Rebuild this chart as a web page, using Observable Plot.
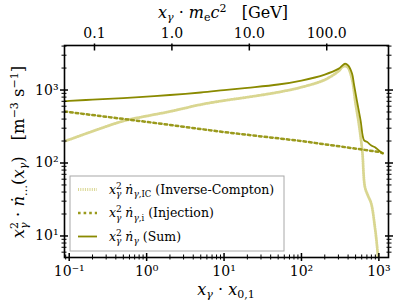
<!DOCTYPE html>
<html><head><meta charset="utf-8">
<script src="https://cdn.jsdelivr.net/npm/d3@7"></script>
<script src="https://cdn.jsdelivr.net/npm/@observablehq/plot@0.6"></script>
<style>body{margin:0;background:#fff} #chart{width:399px;height:307px}</style>
</head><body><div id="chart"></div>
<script>
// ---- data ----
const xIC  = [0.087, 0.1, 0.2, 0.5, 1, 2, 5, 10, 20, 50, 100, 200, 300, 340, 370, 400, 450, 500, 550, 609, 660, 720, 795, 890, 950, 975, 1000];
const yIC  = [199, 209, 272, 376, 440, 507, 632, 717, 797, 933, 1093, 1380, 1808, 2080, 2130, 2020, 1400, 650, 350, 148, 47, 36, 28, 13, 7, 5, 3];
const xInj = [0.087, 0.1, 1, 10, 100, 1000, 1120];
const yInj = [507, 498, 366, 265, 200, 142, 136];
const xSum = [0.087, 0.1, 0.2, 0.5, 1, 2, 5, 10, 20, 50, 100, 200, 300, 365, 400, 450, 475, 520, 580, 645, 700, 800, 900, 1000, 1120];
const ySum = [703, 710, 738, 776, 812, 855, 925, 995, 1070, 1190, 1350, 1630, 1950, 2290, 2170, 1680, 1227, 717, 383, 204, 195, 174, 163, 148, 136];

const xDecades = [0.1, 1, 10, 100, 1000];
const xDecadeLabels = ["10⁻¹", "10⁰", "10¹", "10²", "10³"];
const yDecades = [10, 100, 1000];
const yDecadeLabels = ["10¹", "10²", "10³"];
const minorMultipliers = [2, 3, 4, 5, 6, 7, 8, 9];
const topTicksGeV = [0.1, 1, 10, 100];
const topTickLabels = ["0.1", "1.0", "10.0", "100.0"];
const unitsPerGeV = 2.12; // x·x0,1 per GeV (read from the top/bottom axis alignment)

const xDomain = [0.0869, 1331];
const yDomain = [5.07, 4075];

const cSum = "#8a8a00", cInj = "#9a9a1c", cIC = "#d9d690";

// ---- derived tables ----
const toRows = (xs, ys) => xs.map((x, i) => ({x, y: ys[i]}));
const icData = toRows(xIC, yIC), injData = toRows(xInj, yInj), sumData = toRows(xSum, ySum);
const inDom = (v, d) => v >= d[0] * 0.999 && v <= d[1] * 1.001;
const xMinor = [0.01, ...xDecades].flatMap(d => minorMultipliers.map(m => d * m)).filter(v => inDom(v, xDomain));
const yMinor = [1, ...yDecades].flatMap(d => minorMultipliers.map(m => d * m)).filter(v => inDom(v, yDomain));
const topTicks = topTicksGeV.map(g => g * unitsPerGeV);
const lab = (vals, labels) => d => { const i = vals.findIndex(v => Math.abs(v / d - 1) < 1e-6); return i < 0 ? "" : labels[i]; };
const none = () => "";

const plot = Plot.plot({
  width: 399, height: 307,
  marginLeft: 64, marginRight: 11, marginTop: 45, marginBottom: 50,
  style: {fontFamily: "DejaVu Serif", fontSize: "14px", background: "white", color: "black", overflow: "visible"},
  x: {type: "log", domain: xDomain},
  y: {type: "log", domain: yDomain},
  marks: [
    Plot.line(icData, {x: "x", y: "y", stroke: cIC, strokeWidth: 2.8, strokeDasharray: "1,1.3", curve: "catmull-rom", clip: true}),
    Plot.line(injData, {x: "x", y: "y", stroke: cInj, strokeWidth: 2.5, strokeDasharray: "2.6,3", clip: true}),
    Plot.line(sumData, {x: "x", y: "y", stroke: cSum, strokeWidth: 1.8, curve: "catmull-rom", clip: true}),
    Plot.frame({stroke: "black", strokeWidth: 1.6}),
    // bottom
    Plot.axisX({anchor: "bottom", ticks: xDecades, tickSize: 8, dy: -4, tickFormat: none, label: null, strokeWidth: 1.5}),
    Plot.axisX({anchor: "bottom", ticks: xMinor, tickSize: 5, dy: -2.5, tickFormat: none, label: null}),
    Plot.axisX({anchor: "bottom", ticks: xDecades, tickSize: 0, tickPadding: 9, tickFormat: lab(xDecades, xDecadeLabels), label: null, fontSize: 14}),
    // top (GeV)
    Plot.axisX({anchor: "top", ticks: topTicks, tickSize: 7, dy: 4.5, tickFormat: none, label: null, strokeWidth: 1.5}),
    Plot.axisX({anchor: "top", ticks: topTicks, tickSize: 0, tickPadding: 8, tickFormat: lab(topTicks, topTickLabels), label: null, fontSize: 14}),
    // left
    Plot.axisY({anchor: "left", ticks: yDecades, tickSize: 8, dx: 4, tickFormat: none, label: null, strokeWidth: 1.5}),
    Plot.axisY({anchor: "left", ticks: yMinor, tickSize: 5, dx: 2.5, tickFormat: none, label: null}),
    Plot.axisY({anchor: "left", ticks: yDecades, tickSize: 0, tickPadding: 6, tickFormat: lab(yDecades, yDecadeLabels), label: null, fontSize: 14}),
    // right
    Plot.axisY({anchor: "right", ticks: yDecades, tickSize: 8, dx: -4, tickFormat: none, label: null, strokeWidth: 1.5}),
    Plot.axisY({anchor: "right", ticks: yMinor, tickSize: 5, dx: -2.5, tickFormat: none, label: null})
  ]
});
document.getElementById("chart").append(plot);

// ---- rich text titles & legend ----
const svg = d3.select(plot);
function rich(parent, segs, attrs) {
  const t = parent.append("text");
  for (const [k, v] of Object.entries(attrs)) t.attr(k, v);
  let cur = 0;
  for (const s of segs) {
    const ts = t.append("tspan").text(s.t);
    const off = s.o || 0;
    if (off !== cur) { ts.attr("dy", off - cur); cur = off; }
    if (s.i) ts.attr("font-style", "italic");
    if (s.s) ts.attr("font-size", s.s);
    if (s.dx) ts.attr("dx", s.dx);
  }
  return t;
}
const base = {"font-family": "DejaVu Serif", fill: "black", stroke: "none"};
rich(svg, [
  {t: "x", i: 1}, {t: "γ", o: 3, s: 11, i: 1}, {t: " · ", o: 0}, {t: "x", i: 1}, {t: "0,1", o: 3, s: 11}
], {...base, "font-size": 16, x: 226, y: 295, "text-anchor": "middle"});
rich(svg, [
  {t: "x", i: 1}, {t: "γ", o: 3, s: 11, i: 1}, {t: " · ", o: 0}, {t: "m", i: 1}, {t: "e", o: 3, s: 11},
  {t: "c", o: 0, i: 1}, {t: "2", o: -6, s: 11}, {t: "   [GeV]", o: 0}
], {...base, "font-size": 16, x: 223, y: 18, "text-anchor": "middle"});
rich(svg, [
  {t: "x", i: 1}, {t: "2", o: -6, s: 11}, {t: "γ", o: 4, s: 11, i: 1, dx: -7}, {t: " · ", o: 0},
  {t: "ṅ", i: 1}, {t: "…", o: 3, s: 11}, {t: "(", o: 0}, {t: "x", i: 1}, {t: "γ", o: 3, s: 11, i: 1},
  {t: ")   [m", o: 0}, {t: "−3", o: -6, s: 11}, {t: " s", o: 0}, {t: "−1", o: -6, s: 11}, {t: "]", o: 0}
], {...base, "font-size": 16.5, transform: "translate(24,152) rotate(-90)", "text-anchor": "middle"});

// legend
const lg = svg.append("g");
lg.append("rect").attr("x", 70).attr("y", 176).attr("width", 214).attr("height", 75)
  .attr("fill", "white").attr("fill-opacity", 0.85).attr("stroke", "#a8a8a8").attr("stroke-width", 1);
const mathHead = [{t: "x", i: 1}, {t: "2", o: -5, s: 9}, {t: "γ", o: 3.5, s: 9, i: 1, dx: -5.8}, {t: " ", o: 0}, {t: "ṅ", i: 1}];
const legendItems = [
  {stroke: cIC, w: 2.8, dash: "1,1.3", segs: [...mathHead, {t: "γ", o: 3.5, s: 9, i: 1}, {t: ",IC", o: 3.5, s: 8.5}, {t: " (Inverse-Compton)", o: 0}]},
  {stroke: cInj, w: 2.5, dash: "2.6,3", segs: [...mathHead, {t: "γ", o: 3.5, s: 9, i: 1}, {t: ",i", o: 3.5, s: 8.5}, {t: " (Injection)", o: 0}]},
  {stroke: cSum, w: 1.8, dash: null, segs: [...mathHead, {t: "γ", o: 3.5, s: 9, i: 1}, {t: " (Sum)", o: 0}]}
];
legendItems.forEach((it, k) => {
  const cy = 189.5 + k * 23.5;
  const ln = lg.append("line").attr("x1", 78).attr("x2", 97).attr("y1", cy).attr("y2", cy)
    .attr("stroke", it.stroke).attr("stroke-width", it.w);
  if (it.dash) ln.attr("stroke-dasharray", it.dash);
  rich(lg, it.segs, {...base, "font-size": 12.5, x: 109, y: cy + 4, "text-anchor": "start"});
});
</script>
</body></html>
